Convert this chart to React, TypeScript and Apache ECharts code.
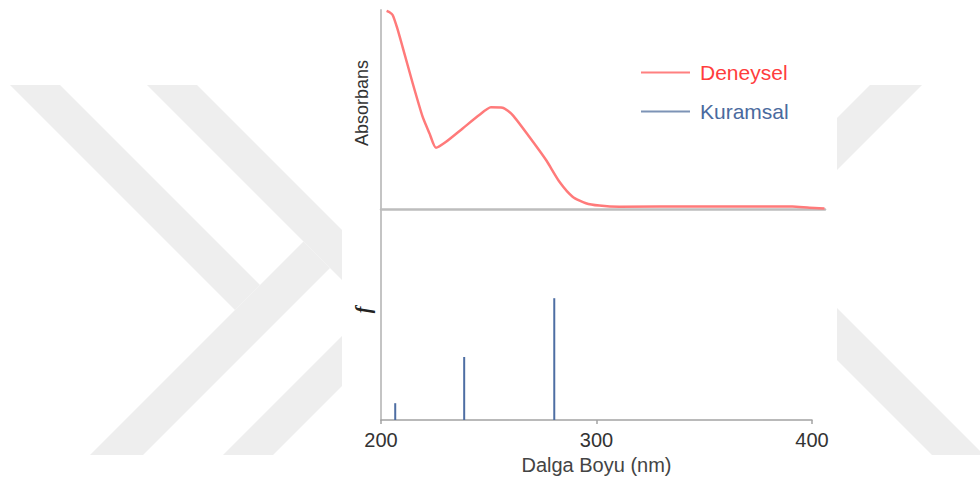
import React, { useEffect, useRef } from "react";
import * as echarts from "echarts";

// Experimental spectrum (Deneysel)
const expWavelength = [202.6, 203.8, 205.4, 207.5, 210.0, 214.7, 219.3, 222.5, 225.5, 230.2, 237.9, 245.6, 251.0, 256.4, 261.1, 268.8, 276.6, 282.8, 288.9, 295.1, 301.3, 310.6, 347.7, 390.9, 398.8, 405.8];
const expAbsorbance = [0.996, 0.99, 0.975, 0.91, 0.815, 0.632, 0.464, 0.38, 0.308, 0.338, 0.405, 0.472, 0.511, 0.509, 0.472, 0.363, 0.246, 0.137, 0.062, 0.029, 0.017, 0.011, 0.013, 0.013, 0.006, 0.003];

// Theoretical transitions (Kuramsal)
const calcWavelength = [206.6, 238.6, 280.4];
const calcStrength = [0.04, 0.15, 0.29];

const seriesNames = ["Deneysel", "Kuramsal"];
const xAxisTitle = "Dalga Boyu (nm)";
const yTopTitle = "Absorbans";
const yBottomTitle = "f";

const FONT = "Liberation Sans, Arial, sans-serif";
const WM = "#eeeeee";

export default function App() {
  const ref = useRef<HTMLDivElement>(null);
  useEffect(() => {
    const chart = echarts.init(ref.current!, null, { renderer: "svg" });
    const poly = (points: number[][]) => ({
      type: "polygon",
      z: -20,
      silent: true,
      shape: { points },
      style: { fill: WM },
    });
    chart.setOption({
      animation: false,
      backgroundColor: "#ffffff",
      graphic: [
        poly([[10, 85], [60, 85], [260, 285], [235, 310]]),
        poly([[90, 455], [143, 455], [330, 268], [303.5, 241.5]]),
        poly([[147, 85], [197, 85], [420, 308], [273, 455], [223, 455], [370, 308]]),
        poly([[870, 85], [922, 85], [800, 207], [800, 155]]),
        poly([[800, 271], [984, 455], [932, 455], [800, 323]]),
        {
          type: "rect",
          z: -10,
          silent: true,
          shape: { x: 342, y: 0, width: 495, height: 482 },
          style: { fill: "#ffffff" },
        },
        {
          type: "text",
          z: 5,
          silent: true,
          x: 363,
          y: 310,
          rotation: Math.PI / 2,
          style: {
            text: yBottomTitle,
            fontSize: 20,
            fontFamily: "Liberation Serif, serif",
            fontStyle: "italic",
            fontWeight: "bold",
            fill: "#222222",
            align: "center",
            verticalAlign: "middle",
          },
        },
      ],
      legend: {
        orient: "vertical",
        left: 636,
        top: 57,
        itemWidth: 49,
        itemHeight: 2,
        itemGap: 18,
        textStyle: { fontSize: 21, fontFamily: FONT, lineHeight: 20, padding: [0, 0, 0, 5] },
        data: [
          { name: seriesNames[0], icon: "rect", itemStyle: { color: "#ff8080" }, textStyle: { color: "#ff3d3d" } },
          { name: seriesNames[1], icon: "rect", itemStyle: { color: "#7d93b6" }, textStyle: { color: "#4a6a9e" } },
        ],
      },
      grid: [
        { left: 381, top: 10, width: 444, height: 199 },
        { left: 381, top: 210, width: 431, height: 210 },
      ],
      xAxis: [
        {
          type: "value",
          gridIndex: 0,
          min: 200,
          max: 200 + 444 / 2.155,
          axisLine: { show: true, lineStyle: { color: "#bdbdbd", width: 2.5 } },
          axisTick: { show: false },
          axisLabel: { show: false },
          splitLine: { show: false },
        },
        {
          type: "value",
          gridIndex: 1,
          min: 200,
          max: 400,
          interval: 100,
          axisLine: { show: true, lineStyle: { color: "#a3a3a3", width: 1.5 } },
          axisTick: { show: true, length: 4, lineStyle: { color: "#a3a3a3", width: 1.5 } },
          axisLabel: { show: true, fontSize: 20, fontFamily: FONT, color: "#333333", margin: 10 },
          splitLine: { show: false },
          name: xAxisTitle,
          nameLocation: "middle",
          nameGap: 35,
          nameTextStyle: { fontSize: 20, fontFamily: FONT, color: "#444444" },
        },
      ],
      yAxis: [
        {
          type: "value",
          gridIndex: 0,
          min: 0,
          max: 1,
          axisLine: { show: true, lineStyle: { color: "#c4c4c4", width: 2 } },
          axisTick: { show: false },
          axisLabel: { show: false },
          splitLine: { show: false },
          name: yTopTitle,
          nameLocation: "middle",
          nameGap: 10,
          nameTextStyle: { fontSize: 18, fontFamily: FONT, color: "#333333", padding: [0, 0, 0, 13] },
        },
        {
          type: "value",
          gridIndex: 1,
          min: 0,
          max: 0.5,
          axisLine: { show: true, lineStyle: { color: "#c4c4c4", width: 2 } },
          axisTick: { show: false },
          axisLabel: { show: false },
          splitLine: { show: false },
        },
      ],
      series: [
        {
          name: seriesNames[0],
          type: "line",
          xAxisIndex: 0,
          yAxisIndex: 0,
          data: expWavelength.map((w, i) => [w, expAbsorbance[i]]),
          smooth: 0.2,
          showSymbol: false,
          symbol: "none",
          color: "#ff8080",
          lineStyle: { color: "#ff7a7a", width: 2.5 },
          z: 3,
        },
        {
          name: seriesNames[1],
          type: "bar",
          xAxisIndex: 1,
          yAxisIndex: 1,
          barWidth: 2,
          data: calcWavelength.map((w, i) => [w, calcStrength[i]]),
          color: "#4e6ea3",
          itemStyle: { color: "#4e6ea3" },
          z: 3,
        },
      ],
    });
    return () => chart.dispose();
  }, []);
  return (
    <div
      ref={ref}
      style={{ position: "fixed", left: 0, top: 0, width: 980, height: 482, background: "#ffffff" }}
    />
  );
}
